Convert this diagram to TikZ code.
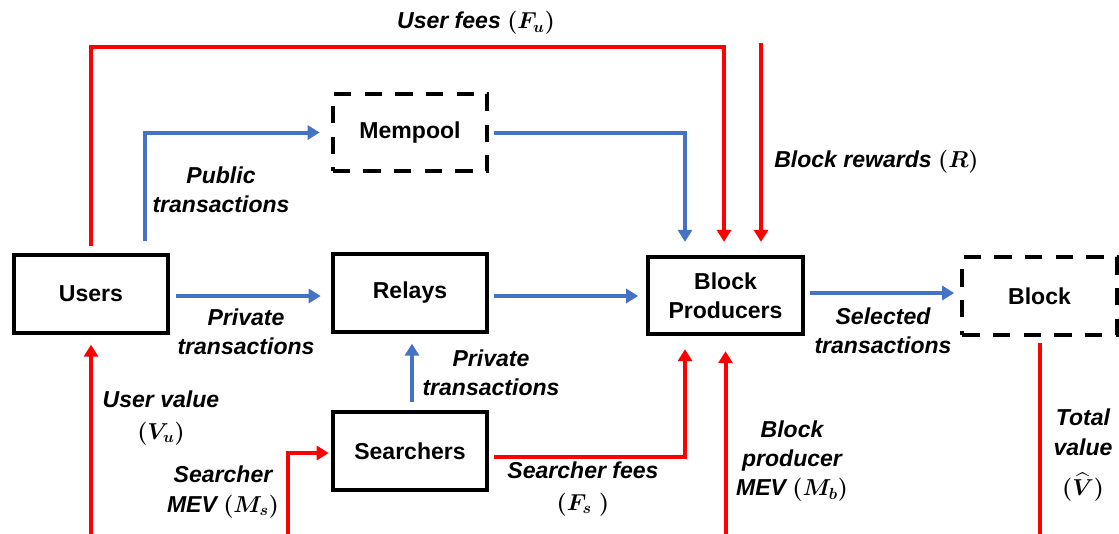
\documentclass[tikz,border=0pt]{standalone}
\usepackage{fontspec}
\setmainfont{Liberation Sans}
\usepackage{amsmath,bm}
\usetikzlibrary{arrows.meta,calc}
\definecolor{flowblue}{HTML}{4472C4}
\definecolor{flowred}{HTML}{FF0000}
\begin{document}
\begin{tikzpicture}[x=0.75pt,y=-0.75pt,
  box/.style={draw=black, line width=3pt, minimum width=116pt, minimum height=58pt, inner sep=0pt, align=center, font=\fontsize{17.28}{21.5}\selectfont\bfseries},
  dbox/.style={box, dash pattern=on 13pt off 10pt},
  lbl/.style={align=center, font=\fontsize{17.28}{22}\selectfont\bfseries\itshape\boldmath, inner sep=0pt},
  barrow/.style={draw=flowblue, line width=3pt, -{Triangle[length=9pt,width=10.5pt]}},
  rarrow/.style={draw=flowred, line width=3pt, -{Triangle[length=9pt,width=10.5pt]}},
  rline/.style={draw=flowred, line width=3pt}]
\useasboundingbox (0,0) rectangle (1119,533);
\clip (0,0) rectangle (1119,533);

% boxes
\node[box]  (users)     at (91,294)      {Users};
\node[dbox] (mempool)   at (410,132.5)   {Mempool};
\node[box]  (relays)    at (410,293)     {Relays};
\node[box]  (searchers) at (410,451)     {Searchers};
\node[box]  (bp)        at (725.5,295.5) {Block\\Producers};
\node[dbox] (block)     at (1039.5,296)  {Block};

% free ends
\coordinate (feecorner) at (724,47);
\coordinate (rtop) at (761,43);
\coordinate (bpmev) at (725.5,545);
\coordinate (uv) at (91,545);
\coordinate (smev) at (288,545);
\coordinate (tv) at (1039.5,545);

% red flows
\draw[rarrow] ($(users.north)+(0,-7)$) |- (feecorner) -- ($(bp.north)+(-1.5,-13)$);
\draw[rarrow] (rtop) -- ($(bp.north)+(35.5,-13)$);
\draw[rarrow] ($(searchers.east)+(5,6)$) -| ($(bp.south)+(-40.5,13)$);
\draw[rarrow] (bpmev) -- ($(bp.south)+(0,15)$);
\draw[rarrow] (uv) -- ($(users.south)+(0,10)$);
\draw[rarrow] (smev) |- ($(searchers.west)+(-2,2)$);
\draw[rline] ($(block.south)+(0,6)$) -- (tv);

% blue flows
\draw[barrow] ($(users.north)+(54,-12)$) |- ($(mempool.west)+(-11,0)$);
\draw[barrow] ($(mempool.east)+(5,0)$) -| ($(bp.north)+(-40.5,-13)$);
\draw[barrow] ($(users.east)+(6,2)$) -- ($(relays.west)+(-10,3)$);
\draw[barrow] ($(relays.east)+(5,3)$) -- ($(bp.west)+(-8,0.5)$);
\draw[barrow] ($(bp.east)+(5,-2.5)$) -- ($(block.west)+(-6,-3)$);
\draw[barrow] ($(searchers.north)+(2,-8)$) -- ($(relays.south)+(2,10)$);

% labels
\node[lbl] (lfu)  at (476,23)   {User fees $(F_u)$};
\node[lbl] (lpub) at (221,190)  {Public\\transactions};
\node[lbl, anchor=west] (lrew) at (774,162) {Block rewards $(R)$};
\node[lbl] (lpr1) at (246,332)  {Private\\transactions};
\node[lbl] (lpr2) at (491,373)  {Private\\transactions};
\node[lbl] (luv)  at (161,418)  {User value\\[2pt]$(V_u)$};
\node[lbl] (lsm)  at (223,492)  {Searcher\\MEV $(M_s)$};
\node[lbl] (lsf)  at (583,489)  {Searcher fees\\[2pt]$(F_s\;)$};
\node[lbl] (lsel) at (883,331)  {Selected\\transactions};
\node[lbl] (lbm)  at (792,461)  {Block\\producer\\MEV $(M_b)$};
\node[lbl] (ltv)  at (1083,455) {Total\\value\\[8pt]$(\widehat{V})$};
\end{tikzpicture}
\end{document}
